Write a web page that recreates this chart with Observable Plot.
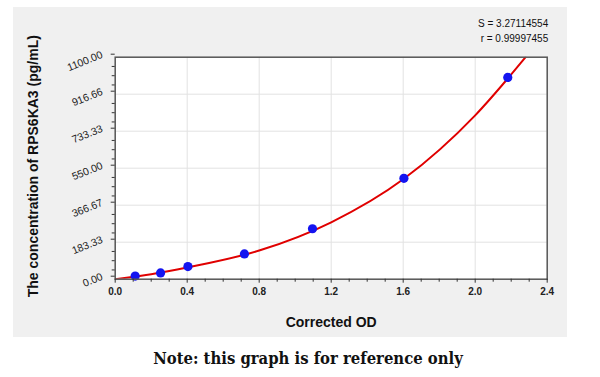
<!DOCTYPE html>
<html>
<head>
<meta charset="utf-8">
<script src="https://cdn.jsdelivr.net/npm/d3@7"></script>
<script src="https://cdn.jsdelivr.net/npm/@observablehq/plot@0.6"></script>
<style>
  html, body { margin: 0; padding: 0; background: #fff; }
  #wrap { position: relative; width: 600px; height: 377px; background: #fff; overflow: hidden; }
  #bg { position: absolute; left: 13px; top: 7px; width: 554px; height: 330px; background: #f0f0f0; }
  #note { position: absolute; left: 8px; top: 349px; width: 600px; text-align: center;
          font-family: "DejaVu Serif Condensed", "DejaVu Serif", serif; font-weight: bold; font-size: 16.5px; color: #111; }
</style>
</head>
<body>
<div id="wrap">
  <div id="bg"></div>
  <div id="note">Note: this graph is for reference only</div>
</div>
<script>
// Standard points (Corrected OD vs concentration)
const pointOD   = [0.111, 0.252, 0.404, 0.718, 1.096, 1.604, 2.181];
const pointConc = [15.6, 31.25, 62.5, 125, 250, 500, 1000];

// Fitted curve
const curveOD   = [0, 0.2, 0.4, 0.8, 1.2, 1.6, 2.0, 2.28];
const curveConc = [0, 25, 58, 142, 282, 495, 812, 1100];

// Axes
const xTicks = [0, 0.4, 0.8, 1.2, 1.6, 2.0, 2.4];
const xMinor = [0.1, 0.2, 0.3, 0.5, 0.6, 0.7, 0.9, 1.0, 1.1, 1.3, 1.4, 1.5, 1.7, 1.8, 1.9, 2.1, 2.2, 2.3];
const yTicks = [0, 183.33, 366.67, 550, 733.33, 916.66, 1100];
const yTickLabels = ["0.00", "183.33", "366.67", "550.00", "733.33", "916.66", "1100.00"];
const yMinor = [45.83, 91.67, 137.5, 229.17, 275, 320.83, 412.5, 458.33, 504.17, 595.83, 641.67, 687.5,
                779.17, 825, 870.83, 962.5, 1008.33, 1054.17];

const statLines = ["S = 3.27114554", "r = 0.99997455"];
const xLabel = "Corrected OD";
const yLabel = "The concentration of RPS6KA3 (pg/mL)";

const points = pointOD.map((x, i) => ({x, y: pointConc[i]}));
const curve = curveOD.map((x, i) => ({x, y: curveConc[i]}));

const font = "'Liberation Sans', Arial, sans-serif";

const chart = Plot.plot({
  width: 554,
  height: 330,
  marginLeft: 101.7,
  marginRight: 20.3,
  marginTop: 49.7,
  marginBottom: 58.3,
  style: {background: "transparent", fontFamily: font, color: "#222"},
  x: {domain: [0, 2.4]},
  y: {domain: [0, 1100]},
  marks: [
    Plot.frame({fill: "white", stroke: null}),
    Plot.gridX(xTicks.slice(1, -1), {stroke: "#e2e2e2", strokeOpacity: 1}),
    Plot.gridY(yTicks.slice(1, -1), {stroke: "#e2e2e2", strokeOpacity: 1}),
    Plot.line(curve, {x: "x", y: "y", stroke: "#e00000", strokeWidth: 2, curve: "monotone-x", clip: true}),
    Plot.dot(points, {x: "x", y: "y", r: 4.6, fill: "#1414f0", stroke: null}),
    Plot.frame({stroke: "#555", strokeWidth: 1.5}),
    Plot.axisX(xTicks, {tickSize: 4, tickPadding: 5, tickFormat: d => d.toFixed(1), fontSize: 10, fontWeight: "bold", label: null, stroke: "#333"}),
    Plot.axisX(xMinor, {tickSize: 3, tickFormat: () => "", label: null, stroke: "#333"}),
    Plot.axisY(yTicks, {tickSize: 4, tickPadding: 9, dy: -3, tickFormat: d => yTickLabels[yTicks.indexOf(d)], tickRotate: -22, fontSize: 10.5, label: null, stroke: "#333"}),
    Plot.axisY(yMinor, {tickSize: 3, tickFormat: () => "", label: null, stroke: "#333"}),
    Plot.text([xLabel], {frameAnchor: "bottom", dy: 43, lineAnchor: "middle", fontSize: 14, fontWeight: "bold", fill: "#111"}),
    Plot.text([yLabel], {frameAnchor: "left", dx: -82, dy: -2, rotate: -90, textAnchor: "middle", lineAnchor: "middle", fontSize: 14, fontWeight: "bold", fill: "#111"}),
    Plot.text([statLines[0]], {frameAnchor: "top-right", dx: 1, dy: -33, lineAnchor: "middle", textAnchor: "end", fontSize: 10, fill: "#111"}),
    Plot.text([statLines[1]], {frameAnchor: "top-right", dx: 1, dy: -18, lineAnchor: "middle", textAnchor: "end", fontSize: 10, fill: "#111"})
  ]
});
document.getElementById("bg").appendChild(chart);
</script>
</body>
</html>
